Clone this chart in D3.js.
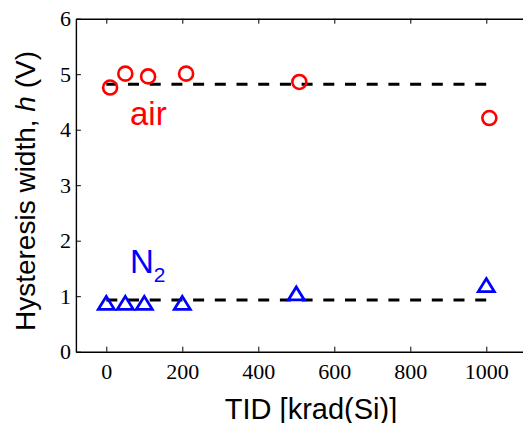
<!DOCTYPE html>
<html>
<head>
<meta charset="utf-8">
<script src="https://cdn.jsdelivr.net/npm/d3@7"></script>
<style>
  body { margin: 0; background: #fff; }
  svg { display: block; }
</style>
</head>
<body>
<div id="chart"></div>
<script>
// TID dose points [krad(Si)] and hysteresis width h [V]
var airTID = [10, 50, 110, 210, 508, 1008]
var airH = [4.76, 5.01, 4.96, 5.01, 4.86, 4.21]
var n2TID = [0, 50, 100, 200, 500, 1000]
var n2H = [0.88, 0.88, 0.88, 0.88, 1.05, 1.20]
// mean levels (dashed guides)
var airMean = 4.82
var n2Mean = 0.93
var xTicks = [0, 200, 400, 600, 800, 1000]
var yTicks = [0, 1, 2, 3, 4, 5, 6]

var width = 523, height = 423
var serif = "'Liberation Serif', Tinos, 'Times New Roman', serif"
var sans = "'Liberation Sans', Arimo, Arial, sans-serif"

var svg = d3.select('#chart').append('svg')
  .attr('width', width)
  .attr('height', height)

var x = d3.scaleLinear().domain([-80, 1100]).range([75.9, 524.3])
var y = d3.scaleLinear().domain([0, 6]).range([351.7, 18.7])

// dashed mean lines first, markers on top
var lines = [airMean, n2Mean]
svg.selectAll('.mean')
  .data(lines)
  .enter().append('line')
  .attr('class', 'mean')
  .attr('x1', x(0)).attr('x2', x(1000))
  .attr('y1', function(d) { return y(d) })
  .attr('y2', function(d) { return y(d) })
  .attr('stroke', '#000')
  .attr('stroke-width', 3)
  .attr('stroke-dasharray', '11,10.7')

// air: red open circles
var air = airTID.map(function(t, i) { return { x: t, y: airH[i] } })
svg.selectAll('.air')
  .data(air)
  .enter().append('circle')
  .attr('class', 'air')
  .attr('cx', function(d) { return x(d.x) })
  .attr('cy', function(d) { return y(d.y) })
  .attr('r', 7)
  .attr('fill', 'none')
  .attr('stroke', '#ff0000')
  .attr('stroke-width', 2.6)

// N2: blue open triangles
var n2 = n2TID.map(function(t, i) { return { x: t, y: n2H[i] } })
var tw = 16, th = 13
svg.selectAll('.n2')
  .data(n2)
  .enter().append('path')
  .attr('class', 'n2')
  .attr('d', 'M0,' + (-th / 2) + 'L' + (tw / 2) + ',' + (th / 2) + 'L' + (-tw / 2) + ',' + (th / 2) + 'Z')
  .attr('transform', function(d) { return 'translate(' + x(d.x) + ',' + y(d.y) + ')' })
  .attr('fill', 'none')
  .attr('stroke', '#0000ff')
  .attr('stroke-width', 2.8)

// axes (ticks point inward)
var fmt = d3.format('d')
var xAxisG = svg.append('g')
  .attr('transform', 'translate(0,' + y(0) + ')')
  .call(d3.axisBottom(x).tickValues(xTicks).tickSize(-5).tickSizeOuter(0).tickFormat(fmt))
var topAxisG = svg.append('g')
  .attr('transform', 'translate(0,' + y(6) + ')')
  .call(d3.axisTop(x).tickValues(xTicks).tickSize(-5).tickSizeOuter(0).tickFormat(''))
var yAxisG = svg.append('g')
  .attr('transform', 'translate(' + x(-80) + ',0)')
  .call(d3.axisLeft(y).tickValues(yTicks).tickSize(-5).tickSizeOuter(0).tickFormat(fmt))

svg.selectAll('.domain').attr('stroke', '#000').attr('stroke-width', 1.4)
svg.selectAll('.tick line').attr('stroke', '#000').attr('stroke-width', 1)

xAxisG.attr('font-family', serif).attr('font-size', 22)
yAxisG.attr('font-family', serif).attr('font-size', 22)

xAxisG.selectAll('text')
  .attr('y', 27.8).attr('dy', null)
  .attr('fill', '#000')

yAxisG.selectAll('text')
  .attr('x', -5).attr('dy', '0.33em')
  .attr('fill', '#000')

// axis titles
svg.append('text')
  .attr('x', 311).attr('y', 419)
  .attr('text-anchor', 'middle')
  .attr('font-family', sans)
  .attr('font-size', 29)
  .text('TID [krad(Si)]')

var ylab = svg.append('text')
  .attr('transform', 'translate(35,191) rotate(-90)')
  .attr('text-anchor', 'middle')
  .attr('font-family', sans)
  .attr('font-size', 28)
ylab.append('tspan').text('Hysteresis width, ')
ylab.append('tspan').attr('font-style', 'italic').text('h')
ylab.append('tspan').text(' (V)')

// series labels
svg.append('text')
  .attr('x', 130).attr('y', 125)
  .attr('fill', '#ff0000')
  .attr('font-family', sans)
  .attr('font-size', 33)
  .text('air')

var n2lab = svg.append('text')
  .attr('x', 130).attr('y', 272.7)
  .attr('fill', '#0000ff')
  .attr('font-family', sans)
  .attr('font-size', 33)
n2lab.append('tspan').text('N')
n2lab.append('tspan').attr('dy', 9).attr('font-size', 21).text('2')
</script>
</body>
</html>
